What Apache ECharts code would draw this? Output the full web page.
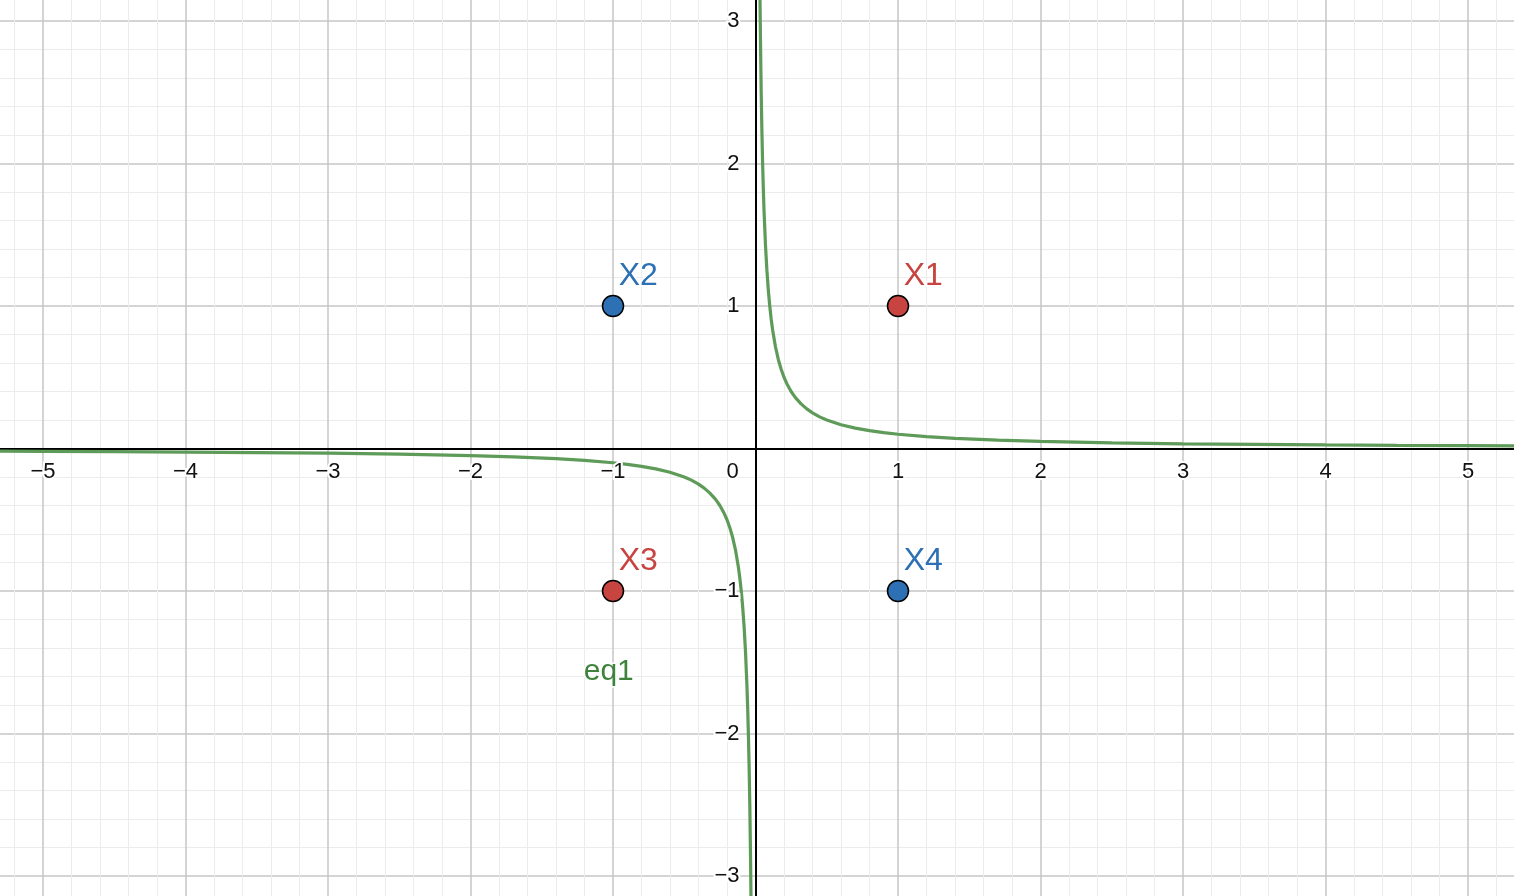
<!DOCTYPE html>
<html>
<head>
<meta charset="utf-8">
<script src="https://cdn.jsdelivr.net/npm/echarts@6/dist/echarts.min.js"></script>
<style>
html,body{margin:0;padding:0;background:#fff;}
#chart{width:1514px;height:896px;}
</style>
</head>
<body>
<div id="chart"></div>
<script>
// ---- data ----
const curvePosX = [0.03,0.032,0.035,0.04,0.045,0.05,0.055,0.06,0.07,0.08,0.09,0.1,0.11,0.12,0.14,0.16,0.18,0.2,0.22,0.25,0.28,0.32,0.36,0.4,0.45,0.5,0.6,0.7,0.8,0.9,1,1.2,1.4,1.7,2,2.5,3,3.5,4,4.5,5,5.5,6];
const curvePosY = [3.333,3.125,2.857,2.5,2.222,2,1.818,1.667,1.429,1.25,1.111,1,0.909,0.833,0.714,0.625,0.556,0.5,0.455,0.4,0.357,0.313,0.278,0.25,0.222,0.2,0.167,0.143,0.125,0.111,0.1,0.083,0.071,0.059,0.05,0.04,0.033,0.029,0.025,0.022,0.02,0.018,0.017];
const curveNegX = [-6,-5.5,-5,-4.5,-4,-3.5,-3,-2.5,-2,-1.7,-1.4,-1.2,-1,-0.9,-0.8,-0.7,-0.6,-0.5,-0.45,-0.4,-0.36,-0.32,-0.28,-0.25,-0.22,-0.2,-0.18,-0.16,-0.14,-0.12,-0.11,-0.1,-0.09,-0.08,-0.07,-0.06,-0.055,-0.05,-0.045,-0.04,-0.035,-0.032,-0.03];
const curveNegY = [-0.017,-0.018,-0.02,-0.022,-0.025,-0.029,-0.033,-0.04,-0.05,-0.059,-0.071,-0.083,-0.1,-0.111,-0.125,-0.143,-0.167,-0.2,-0.222,-0.25,-0.278,-0.313,-0.357,-0.4,-0.455,-0.5,-0.556,-0.625,-0.714,-0.833,-0.909,-1,-1.111,-1.25,-1.429,-1.667,-1.818,-2,-2.222,-2.5,-2.857,-3.125,-3.333];

const pointNames = ['X1','X2','X3','X4'];
const pointX = [1,-1,-1,1];
const pointY = [1,1,-1,-1];

const curveName = 'eq1';
const curveLabelX = [-1.03];
const curveLabelY = [-1.565];

const xTicks = [-6,-5,-4,-3,-2,-1,0,1,2,3,4,5,6];
const yTicks = [-4,-3,-2,-1,0,1,2,3,4];

// ---- styles ----
const RED = '#c74440', BLUE = '#2d70b3', GREEN = '#5e9a58', GREEN_TXT = '#3f833b';
const pointColor = {X1: RED, X2: BLUE, X3: RED, X4: BLUE};
const FONT = '"Liberation Sans", Arial, Helvetica, sans-serif';

const UNIT = 142.5, X0 = 755.5, Y0 = 448.5;
const xMin = xTicks[0], xMax = xTicks[xTicks.length-1];
const yMin = yTicks[0], yMax = yTicks[yTicks.length-1];

function fmt(v){ return v < 0 ? '\u2212' + Math.abs(v) : String(v); }

const tickLabelStyle = {
  show: true, color: '#111', fontSize: 22, fontFamily: FONT,
  textBorderColor: '#fff', textBorderWidth: 4
};
const hiddenItem = {opacity: 1, color: 'transparent'};

const axisCommon = {
  type: 'value',
  interval: 1,
  axisLine: {show: true, onZero: true, lineStyle: {color: '#000', width: 2}},
  axisTick: {show: false},
  axisLabel: {show: false},
  splitLine: {show: true, lineStyle: {color: '#c6c6c6', width: 1.5}},
  minorTick: {show: false, splitNumber: 5},
  minorSplitLine: {show: true, lineStyle: {color: '#ececec', width: 1}}
};

const chart = echarts.init(document.getElementById('chart'), null, {renderer: 'canvas'});
chart.setOption({
  animation: false,
  backgroundColor: '#fff',
  grid: {
    left: X0 + xMin * UNIT, width: (xMax - xMin) * UNIT,
    top: Y0 - yMax * UNIT, height: (yMax - yMin) * UNIT,
    containLabel: false, outerBoundsMode: 'none'
  },
  xAxis: Object.assign({}, axisCommon, {min: xMin, max: xMax}),
  yAxis: Object.assign({}, axisCommon, {min: yMin, max: yMax}),
  series: [
    {
      type: 'line', name: curveName, showSymbol: false, symbol: 'none',
      data: curvePosX.map((x, i) => [x, curvePosY[i]]),
      lineStyle: {color: GREEN, width: 3.2}, z: 3
    },
    {
      type: 'line', name: curveName, showSymbol: false, symbol: 'none',
      data: curveNegX.map((x, i) => [x, curveNegY[i]]),
      lineStyle: {color: GREEN, width: 3.2}, z: 3
    },
    // x tick labels
    {
      type: 'scatter', symbolSize: 0, z: 4, silent: true, itemStyle: hiddenItem,
      data: xTicks.filter(v => v !== 0).map(v => ({value: [v, 0], name: fmt(v)})),
      label: Object.assign({}, tickLabelStyle, {formatter: p => p.name, position: 'bottom', distance: 12})
    },
    // y tick labels
    {
      type: 'scatter', symbolSize: 0, z: 4, silent: true, itemStyle: hiddenItem,
      data: yTicks.filter(v => v !== 0).map(v => ({value: [0, v], name: fmt(v)})),
      label: Object.assign({}, tickLabelStyle, {formatter: p => p.name, position: 'left', distance: 16})
    },
    // origin label
    {
      type: 'scatter', symbolSize: 0, z: 4, silent: true, itemStyle: hiddenItem,
      data: [{name: '0', value: [0, 0]}],
      label: Object.assign({}, tickLabelStyle, {formatter: '0', position: [-29, 12]})
    },
    {
      type: 'scatter', symbolSize: 21, z: 5,
      itemStyle: {opacity: 1},
      data: pointNames.map((n, i) => ({
        name: n, value: [pointX[i], pointY[i]],
        itemStyle: {color: pointColor[n], borderColor: '#000', borderWidth: 1.5, opacity: 1},
        label: {color: pointColor[n]}
      })),
      label: {
        show: true, formatter: p => p.name, position: [17, -35],
        fontSize: 32, fontFamily: FONT, textBorderColor: '#fff', textBorderWidth: 3
      }
    },
    {
      type: 'scatter', symbolSize: 0, z: 4, silent: true, itemStyle: hiddenItem,
      data: curveLabelX.map((x, i) => ({name: curveName, value: [x, curveLabelY[i]]})),
      label: {
        show: true, formatter: p => p.name, position: 'inside',
        color: GREEN_TXT, fontSize: 30, fontFamily: FONT,
        textBorderColor: '#fff', textBorderWidth: 3
      }
    }
  ]
});
</script>
</body>
</html>
